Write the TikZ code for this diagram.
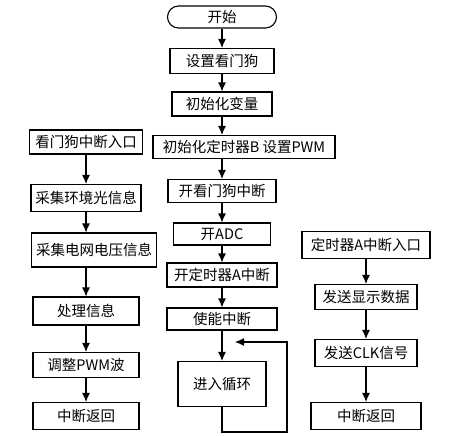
\documentclass[tikz,border=0pt]{standalone}
\usepackage{fontspec}
\usepackage{tikz}
\usetikzlibrary{positioning,arrows.meta}
\newfontfamily\cjk{Noto Sans CJK SC}

\begin{document}
\begin{tikzpicture}[
  x=1pt, y=-1pt,
  box/.style={draw=black, line width=1.1pt, fill=white, inner sep=1pt, minimum height=24pt, font=\cjk\fontsize{14.5}{16}\selectfont},
  terminal/.style={box, rounded corners=11pt, minimum height=22pt},
  arrow/.style={-{Latex[length=9pt,width=8pt]}, line width=1.1pt, draw=black}
]
\useasboundingbox (0,0) rectangle (455,436);
% main program
\node[terminal, minimum width=109pt] (start) at (222,17) {开始};
\node[box, minimum width=104pt, minimum height=25pt] (wdog) at (222,61) {设置看门狗};
\node[box, minimum width=100pt] (initvar) at (222,104) {初始化变量};
\node[box, minimum width=182pt, minimum height=23pt] (inittimer) at (244,147) {初始化定时器B 设置PWM};
\node[box, minimum width=108pt, minimum height=23pt] (wdogint) at (222,191) {开看门狗中断};
\node[box, minimum width=97pt, minimum height=22pt] (adc) at (222,234) {开ADC};
\node[box, minimum width=110pt] (timerint) at (222,275) {开定时器A中断};
\node[box, minimum width=110pt, minimum height=22pt] (enable) at (222,319) {使能中断};
\node[box, minimum width=88pt, minimum height=45pt] (loop) at (222,384) {进入循环};
\coordinate (loopcorner) at (287,432);
\coordinate (loopend) at (235,342);
% watchdog interrupt
\node[box, minimum width=113pt] (wentry) at (86,142) {看门狗中断入口};
\node[box, minimum width=110pt, minimum height=27pt] (light) at (86,198) {采集环境光信息};
\node[box, minimum width=125pt, minimum height=34pt] (volt) at (94,250) {采集电网电压信息};
\node[box, minimum width=106pt, minimum height=28pt] (proc) at (86,311) {处理信息};
\node[box, minimum width=106pt, minimum height=25pt] (pwm) at (86,365) {调整PWM波};
\node[box, minimum width=106pt, minimum height=27pt] (wret) at (86,416) {中断返回};
% timer A interrupt
\node[box, minimum width=128pt, minimum height=27pt] (tentry) at (366,245) {定时器A中断入口};
\node[box, minimum width=102pt, minimum height=25pt] (disp) at (366,297) {发送显示数据};
\node[box, minimum width=102pt, minimum height=27pt] (clk) at (366,353) {发送CLK信号};
\node[box, minimum width=110pt, minimum height=27pt] (tret) at (366,416) {中断返回};
\draw[arrow] (start) -- (wdog);
\draw[arrow] (wdog) -- (initvar);
\draw[arrow] (initvar) -- (initvar |- inittimer.north);
\draw[arrow] (inittimer.south -| wdogint) -- (wdogint);
\draw[arrow] (wdogint) -- (adc);
\draw[arrow] (adc) -- (timerint);
\draw[arrow] (timerint) -- (enable);
\draw[arrow] (enable) -- (loop);
\draw[arrow] (loop.south) |- (loopcorner) |- (loopend);
\draw[arrow] (wentry) -- (light);
\draw[arrow] (light) -- (light |- volt.north);
\draw[arrow] (volt.south -| proc) -- (proc);
\draw[arrow] (proc) -- (pwm);
\draw[arrow] (pwm) -- (wret);
\draw[arrow] (tentry) -- (disp);
\draw[arrow] (disp) -- (clk);
\draw[arrow] (clk) -- (tret);
\end{tikzpicture}
\end{document}
